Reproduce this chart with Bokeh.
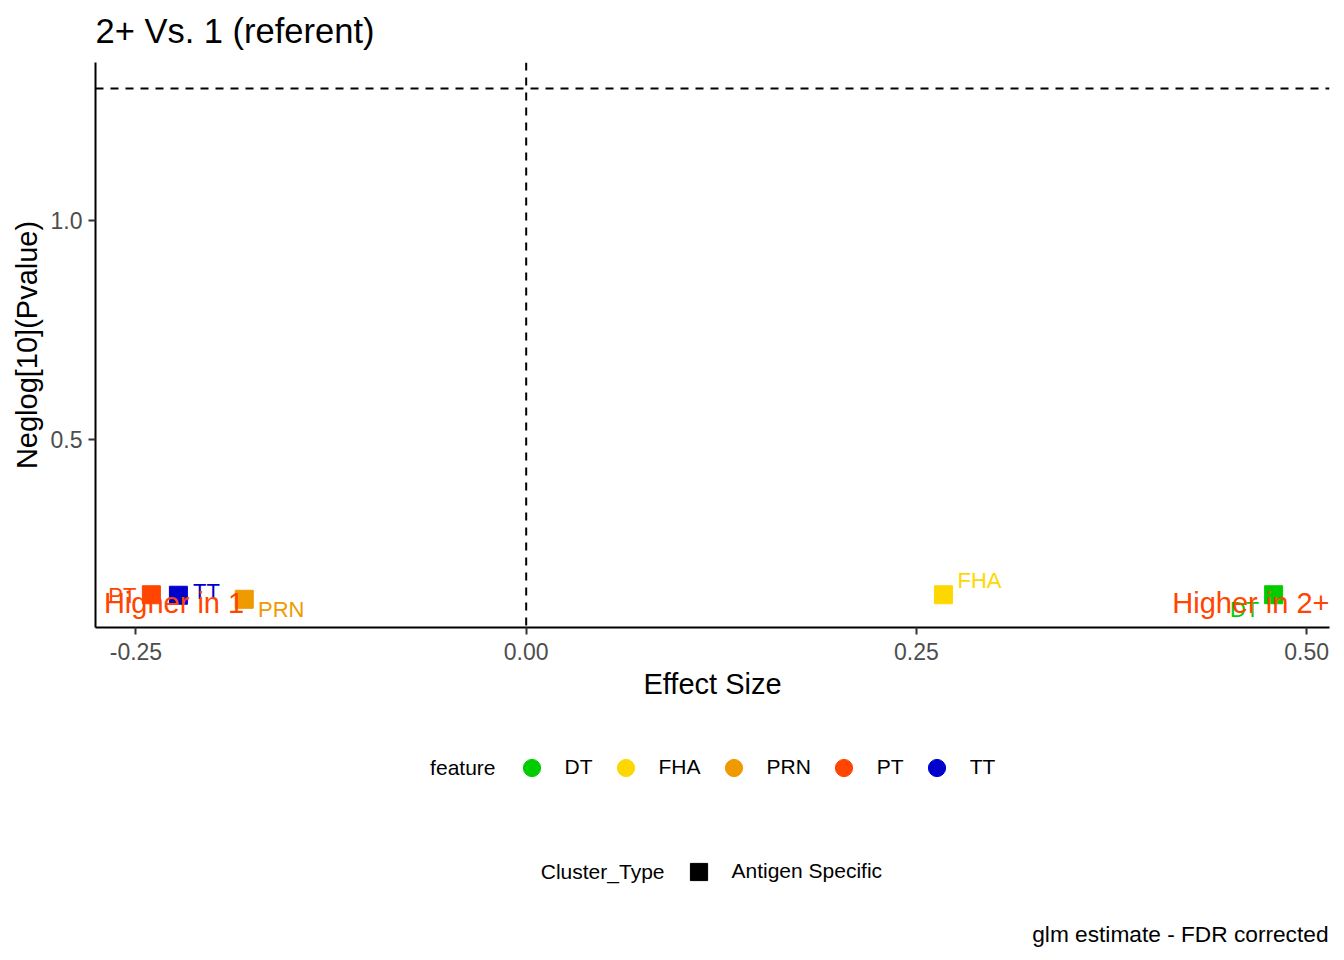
import numpy as np
from bokeh.plotting import figure
from bokeh.layouts import column
from bokeh.models import (Range1d, Span, Legend, LegendItem, Label, LabelSet,
                          ColumnDataSource, FixedTicker, PrintfTickFormatter)
from bokeh.embed import file_html
from bokeh.resources import INLINE
from bokeh.core.properties import value

# ---- data ----
features = ["DT", "FHA", "PRN", "PT", "TT"]
colors = ["#00CD00", "#FFD700", "#EE9A00", "#FF4500", "#0000CD"]
effect_size = [0.4788, 0.2673, -0.1806, -0.2401, -0.2228]
neglog_p = [0.1473, 0.1473, 0.1370, 0.1473, 0.1462]
cluster_types = ["Antigen Specific"]
x_ticks = [-0.25, 0.0, 0.25, 0.50]
y_ticks = [0.5, 1.0]
p_threshold = 0.05
title_text = "2+ Vs. 1 (referent)"
left_note = "Higher in 1"
right_note = "Higher in 2+"
caption = "glm estimate - FDR corrected"

# label offsets (pixels) for repelled point labels
lab_dx = [-29, 36, 37, -29, 28]
lab_dy = [-14.5, 14, -10.5, -1, 4]

FONT = "Liberation Sans"
W = 1344
H_TOP = 50
H_MAIN = 660
H_LEG = 960 - H_TOP - H_MAIN
LEFT = 95  # frame left edge (page px)


def blank_area(h):
    f = figure(width=W, height=h, output_backend="svg", toolbar_location=None,
               x_range=Range1d(0, 1), y_range=Range1d(0, 1), title=None,
               x_axis_type=None, y_axis_type=None, min_border=0,
               background_fill_color="white", border_fill_color="white",
               outline_line_color=None)
    f.grid.visible = False
    return f


def screen_label(fig, x, y, text, size, align):
    fig.add_layout(Label(x=x - LEFT, y=y, x_units="screen", y_units="screen", text=text,
                         text_font=FONT, text_font_size=size, text_color="black",
                         text_align=align, text_baseline="middle"))


# ---- title area ----
t = blank_area(H_TOP)
screen_label(t, 95, H_TOP - 30, title_text, "34.5px", "left")

# ---- main plot ----
src = ColumnDataSource(dict(feature=features, color=colors, effect=effect_size,
                            neglogp=neglog_p, dx=lab_dx, dy=lab_dy))

p = figure(width=W, height=H_MAIN, output_backend="svg", toolbar_location=None, title=None,
           x_range=Range1d(-0.2759, 0.5146), y_range=Range1d(0.0727, 1.3602),
           min_border_left=LEFT, min_border_right=15, min_border_top=62 - H_TOP,
           min_border_bottom=H_TOP + H_MAIN - 627,
           background_fill_color="white", border_fill_color="white", outline_line_color=None)

p.xgrid.visible = False
p.ygrid.visible = False

for ax in (p.xaxis[0], p.yaxis[0]):
    ax.axis_line_color = "black"
    ax.axis_line_width = 2
    ax.major_tick_line_color = "#333333"
    ax.major_tick_line_width = 2
    ax.major_tick_out = 7
    ax.major_tick_in = 0
    ax.minor_tick_line_color = None
    ax.major_label_text_font = FONT
    ax.major_label_text_font_size = "23px"
    ax.major_label_text_color = "#4D4D4D"
    ax.major_label_standoff = 6
    ax.axis_label_text_font = FONT
    ax.axis_label_text_font_size = "29px"
    ax.axis_label_text_font_style = "normal"
    ax.axis_label_text_color = "black"

p.xaxis[0].ticker = FixedTicker(ticks=x_ticks)
p.xaxis[0].formatter = PrintfTickFormatter(format="%.2f")
p.xaxis[0].axis_label = "Effect Size"
p.xaxis[0].major_label_standoff = 8
p.xaxis[0].axis_label_standoff = 5
p.yaxis[0].ticker = FixedTicker(ticks=y_ticks)
p.yaxis[0].formatter = PrintfTickFormatter(format="%.1f")
p.yaxis[0].axis_label = "Neglog[10](Pvalue)"
p.yaxis[0].axis_label_standoff = 5

# reference lines
p.add_layout(Span(location=-np.log10(p_threshold), dimension="width", line_color="black",
                  line_width=2, line_dash="8 7"))
p.add_layout(Span(location=0, dimension="height", line_color="black",
                  line_width=2, line_dash="8 7"))

# points
p.scatter(x="effect", y="neglogp", source=src, marker="square", size=18,
          fill_color="color", line_color="color")

# point labels
p.add_layout(LabelSet(x="effect", y="neglogp", text="feature", source=src,
                      x_offset="dx", y_offset="dy", text_color="color",
                      text_font=value(FONT), text_font_size="22px",
                      text_align="center", text_baseline="middle"))

# direction notes
p.add_layout(Label(x=-0.2705, y=0.129, text=left_note, text_color="#FF4500",
                   text_font=FONT, text_font_size="29px",
                   text_align="left", text_baseline="middle"))
p.add_layout(Label(x=0.5146, y=0.129, text=right_note, text_color="#FF4500",
                   text_font=FONT, text_font_size="29px",
                   text_align="right", text_baseline="middle"))

# ---- legend / caption area ----
q = blank_area(H_LEG)

nan = np.array([np.nan])
feat_items = []
for f, c in zip(features, colors):
    r = q.scatter(x=nan, y=nan, marker="circle", size=17, fill_color=c, line_color=c)
    feat_items.append(LegendItem(label=f, renderers=[r]))
rsq = q.scatter(x=nan, y=nan, marker="square", size=18, fill_color="black", line_color="black")
clus_items = [LegendItem(label=cluster_types[0], renderers=[rsq])]


def make_legend(items, loc):
    return Legend(items=items, orientation="horizontal", location=loc,
                  border_line_color=None, background_fill_alpha=0,
                  glyph_width=43, glyph_height=43, label_standoff=12, spacing=11,
                  padding=0, margin=0,
                  label_text_font=FONT, label_text_font_size="21px", label_text_color="black")


# screen positions: page px shifted to this area's frame (x from frame left, y upward)
q.add_layout(make_legend(feat_items, (509.5 - LEFT, 960 - 788.5)))
q.add_layout(make_legend(clus_items, (676.5 - LEFT, 960 - 892.5)))

screen_label(q, 495, 960 - 767, "feature", "21px", "right")
screen_label(q, 664, 960 - 871, "Cluster_Type", "21px", "right")
screen_label(q, 1328, 960 - 933, caption, "22.7px", "right")

layout = column(t, p, q, spacing=0)
open("out.html", "w").write(file_html(layout, INLINE))
